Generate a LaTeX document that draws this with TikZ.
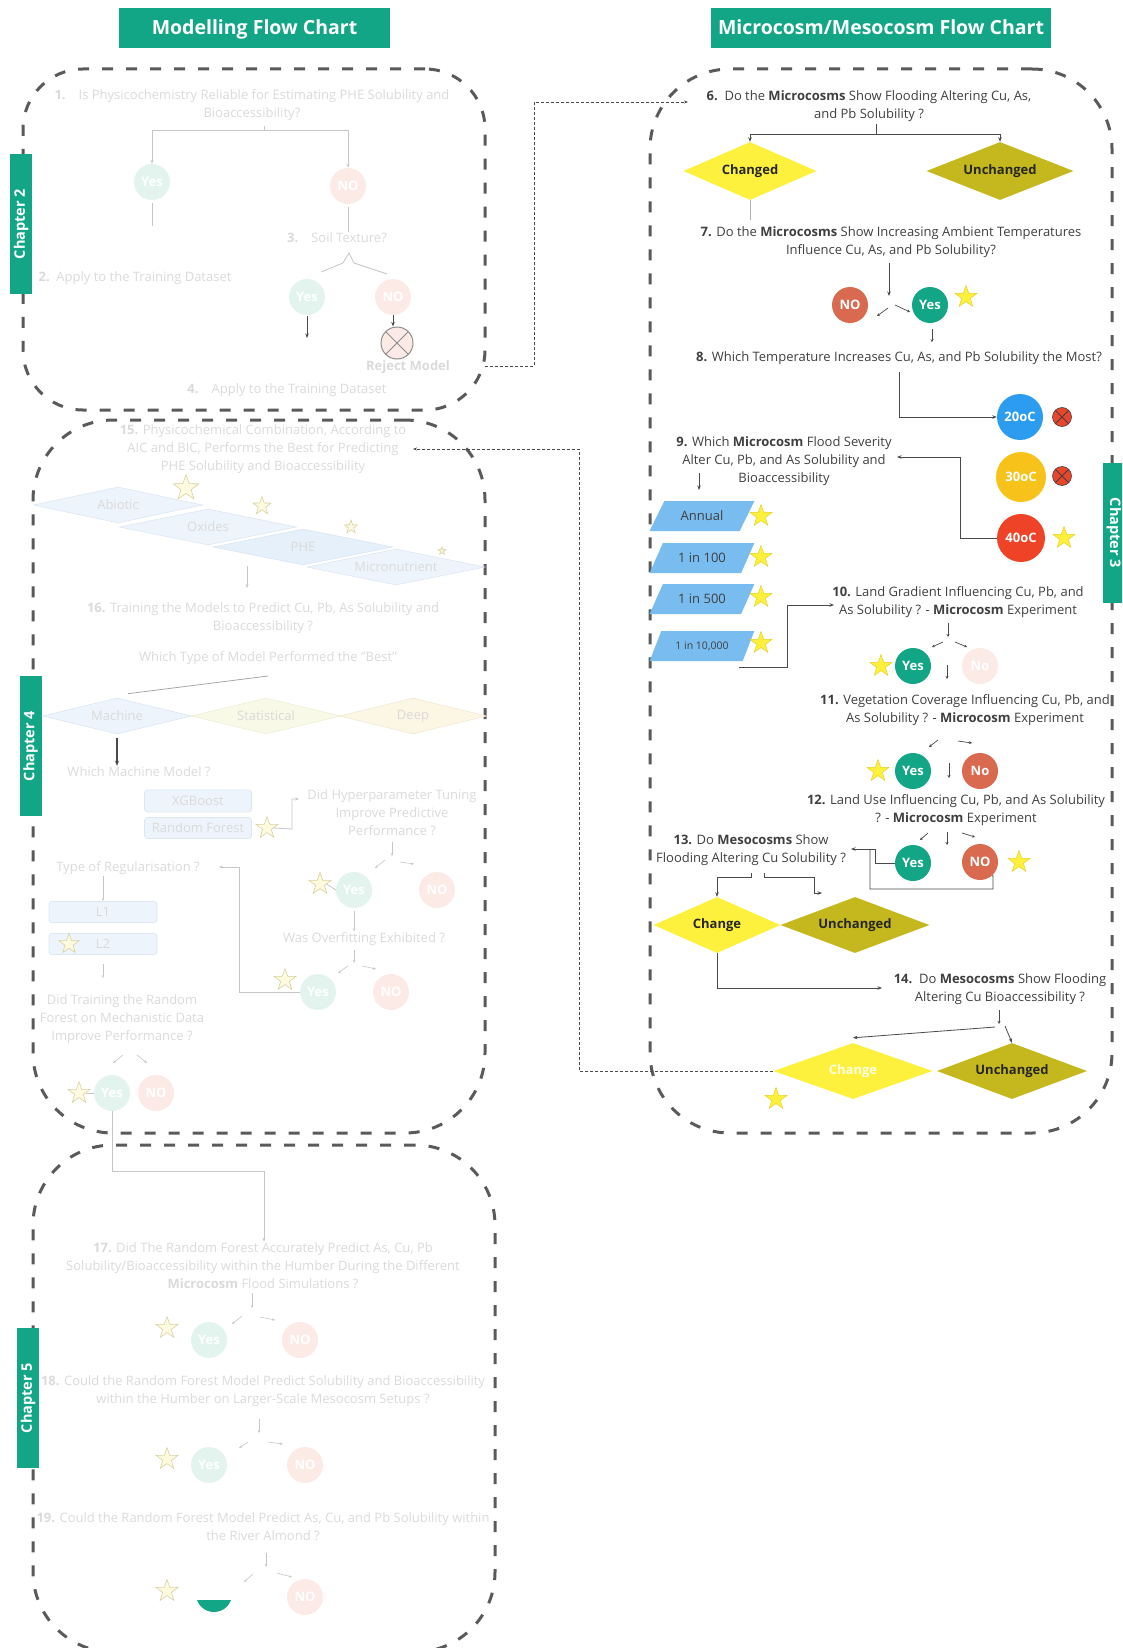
\documentclass[tikz,border=0pt]{standalone}
\usepackage{fontspec}
\setmainfont{Open Sans}
\usetikzlibrary{shapes.geometric,arrows.meta,calc}
\definecolor{tealc}{HTML}{12A586}
\definecolor{salm}{HTML}{D9694F}
\definecolor{yel}{HTML}{FDF13E}
\definecolor{oliv}{HTML}{C4B81E}
\definecolor{pblue}{HTML}{79BCF0}
\definecolor{cblue}{HTML}{2C9CF0}
\definecolor{camber}{HTML}{F7C31B}
\definecolor{cred}{HTML}{EE4327}
\definecolor{xred}{HTML}{E8452C}
\definecolor{styel}{HTML}{FFF03C}
\definecolor{stedge}{HTML}{E2D12A}
\definecolor{dgray}{HTML}{5A5A5A}
\definecolor{txtc}{HTML}{3F3F3F}
\definecolor{lnc}{HTML}{4A4A4A}
\definecolor{fadetx}{HTML}{DADADA}
\definecolor{fadeln}{HTML}{C6C6C6}
\definecolor{fyes}{HTML}{E3F4EF}
\definecolor{fno}{HTML}{FBEAE6}
\definecolor{fstarc}{HTML}{FDFAE0}
\definecolor{fstaredge}{HTML}{D9D1A2}
\definecolor{fblue}{HTML}{EEF4FB}
\definecolor{fblue2}{HTML}{E5F0FA}
\definecolor{fbluedge}{HTML}{DCE6F1}
\definecolor{fgreen}{HTML}{F8F9E7}
\definecolor{fgreenedge}{HTML}{ECEFD3}
\definecolor{fpeach}{HTML}{FCF6E5}
\definecolor{fpeachedge}{HTML}{F3E9CF}
\newcommand\myfs{\fontsize{13}{18}\selectfont}
\newcommand\myfsb{\fontsize{13}{15}\selectfont\bfseries}
\tikzset{
  dbox/.style={draw=dgray, line width=3pt, dash pattern=on 11pt off 13pt, rounded corners=#1, inner sep=0pt, outer sep=0pt},
  hdr/.style={fill=tealc, text=white, font=\fontsize{19.5}{21}\selectfont\bfseries, inner sep=0pt, text height=14pt, text depth=0pt},
  tabbox/.style={fill=tealc, text=white, font=\fontsize{14.5}{16}\selectfont\bfseries, minimum width=140pt, minimum height=22pt, inner sep=0pt},
  tx/.style={align=center, text=txtc, font=\myfs, inner sep=1pt},
  ftx/.style={align=center, text=fadetx, font=\myfs, inner sep=1pt},
  ln/.style={draw=lnc, line width=0.8pt},
  arr/.style={ln, -{Stealth[length=4.5pt,width=3.5pt]}},
  sarr/.style={draw=lnc, line width=0.7pt, -{Stealth[length=3pt,width=3pt]}},
  fln/.style={draw=fadeln, line width=0.8pt},
  farr/.style={fln, -{Stealth[length=4pt,width=3pt]}},
  fsarr/.style={draw=fadeln, line width=0.6pt, -{Stealth[length=3pt,width=2.5pt]}},
  dotarr/.style={draw=lnc, line width=0.8pt, dash pattern=on 3pt off 2pt, -{Stealth[length=4pt,width=3pt]}},
  yesc/.style={circle, fill=tealc, text=white, font=\myfsb, minimum size=36pt, inner sep=0pt},
  noc/.style={circle, fill=salm, text=white, font=\myfsb, minimum size=36pt, inner sep=0pt},
  fyesc/.style={circle, fill=fyes, text=white, font=\myfsb, minimum size=36pt, inner sep=0pt},
  fnoc/.style={circle, fill=fno, text=white, font=\myfsb, minimum size=36pt, inner sep=0pt},
  tempc/.style={circle, fill=#1, text=white, font=\fontsize{13}{15}\selectfont\bfseries, inner sep=0pt},
  xmark/.style={circle, fill=xred, draw=black!75, line width=0.6pt, minimum size=19pt, inner sep=0pt,
      path picture={\draw[black!75, line width=0.8pt] (path picture bounding box.south west)--(path picture bounding box.north east) (path picture bounding box.north west)--(path picture bounding box.south east);}},
  rejmark/.style={circle, fill=fno, draw=black!45, line width=1pt, minimum size=32pt, inner sep=0pt,
      path picture={\draw[black!45, line width=1pt] (path picture bounding box.south west)--(path picture bounding box.north east) (path picture bounding box.north west)--(path picture bounding box.south east);}},
  ystar/.style={star, star points=5, star point ratio=2.5, fill=styel, draw=stedge, line width=0.5pt, minimum size=#1, inner sep=0pt},
  fstar/.style={star, star points=5, star point ratio=2.5, fill=fstarc, draw=fstaredge, line width=0.6pt, minimum size=#1, inner sep=0pt},
  dia/.style={diamond, fill=#1, text=black!85, font=\myfsb, inner sep=0pt},
  para/.style={trapezium, trapezium left angle=50, trapezium right angle=130, trapezium stretches=true, fill=pblue, text=txtc, font=\myfs, minimum width=105pt, minimum height=30pt, inner sep=0pt},
  fdia/.style={diamond, fill=#1, line width=0.6pt, text=fadetx, font=\myfs, inner sep=0pt},
  fbox/.style={rectangle, rounded corners=3pt, fill=fblue, draw=fbluedge, line width=0.8pt, text=fadetx, font=\myfs, minimum width=107pt, minimum height=21pt, inner sep=0pt},
}
\begin{document}
\begin{tikzpicture}[x=1pt,y=-1pt]
\useasboundingbox (0,0) rectangle (1122,1648);
\clip (0,0) rectangle (1122,1648);

% ---------------- dashed chapter boxes ----------------
\node[dbox=60pt, minimum width=462pt, minimum height=341pt] (box2) at (254,239.5) {};
\node[dbox=80pt, minimum width=452pt, minimum height=713pt] (box4) at (259,776.5) {};
\node[dbox=80pt, minimum width=462pt, minimum height=507pt] (box5) at (264,1398.5) {};
\node[dbox=80pt, minimum width=462pt, minimum height=1064pt] (box3) at (881,601) {};

% ---------------- headers and tabs ----------------
\node[hdr, minimum width=271pt, minimum height=40pt] (h1) at (254.5,28) {Modelling Flow Chart};
\node[hdr, minimum width=340pt, minimum height=40pt] (h2) at (881,28) {Microcosm/Mesocosm Flow Chart};
\node[tabbox, rotate=90] (tab2) at (21,224) {Chapter 2};
\node[tabbox, rotate=90] (tab4) at (30.5,746) {Chapter 4};
\node[tabbox, rotate=90] (tab5) at (28,1398) {Chapter 5};
\node[tabbox, rotate=-90] (tab3) at (1114,533) {Chapter 3};

% ================= Chapter 2 (faded) =================
\node[ftx] (q1) at (252,105) {\textbf{1.}\quad Is Physicochemistry Reliable for Estimating PHE Solubility and\\Bioaccessibility?};
\node[fyesc] (yes1) at (152,182) {Yes};
\node[fnoc] (no1) at (348,186) {NO};
\coordinate (b1) at (264,126);
\coordinate (b1j) at (264,130);
\draw[fln] (b1) -- (b1j);
\draw[farr] (b1j) -| (yes1.north);
\draw[farr] (b1j) -| (no1.north);
\coordinate (e1) at (152,226);
\draw[fln] (yes1.south) ++(0,3) -- (e1);
\node[ftx] (q3) at (337,238) {\textbf{3.}\quad Soil Texture?};
\draw[fln] (no1.south) ++(0,3) -- (q3.north -| no1.south);
\draw[fln] (321,272) -- (343,263) -- (349,253) -- (354,263) -- (387,274);
\node[ftx] (q2) at (135,278) {\textbf{2.}\ \ Apply to the Training Dataset};
\node[fyesc] (yes3) at (307,297) {Yes};
\node[fnoc] (no3) at (393,297) {NO};
\coordinate (e3) at (307,338);
\draw[arr] (yes3.south) ++(0,1) -- (e3);
\node[rejmark] (rej) at (397,343) {};
\draw[arr] (no3.south) -- (rej.north -| no3.south);
\node[ftx, font=\myfs\bfseries] (rejt) at (408,367) {Reject Model};
\node[ftx] (q4) at (287,390) {\textbf{4.}\quad Apply to the Training Dataset};

% ================= Chapter 4 (faded) =================
\node[ftx] (q15) at (263,449) {\textbf{15.} Physicochemical Combination, According to\\AIC and BIC, Performs the Best for Predicting\\PHE Solubility and Bioaccessibility};
\node[fdia=fblue, draw=fbluedge, aspect=4.7, minimum width=169pt, minimum height=36pt] (abio) at (118,505) {Abiotic};
\node[fdia=fblue, draw=fbluedge, aspect=4.9, minimum width=177pt, minimum height=36pt] (oxid) at (208,527) {Oxides};
\node[fdia=fblue2, draw=fbluedge, aspect=5, minimum width=180pt, minimum height=36pt] (phe) at (303,547) {PHE};
\node[fdia=fblue, draw=fbluedge, aspect=4.9, minimum width=178pt, minimum height=36pt] (micro) at (396,567) {Micronutrient};
\node[fstar=27pt] (fs1) at (186,488) {};
\node[fstar=19pt] (fs2) at (262,506) {};
\node[fstar=14pt] (fs3) at (351,527) {};
\node[fstar=8pt] (fs4) at (442,551) {};
\coordinate (a15s) at (247,566);
\coordinate (a15e) at (247,588);
\draw[farr] (a15s) -- (a15e);
\node[ftx] (q16) at (263,618) {\textbf{16.} Training the Models to Predict Cu, Pb, As Solubility and\\Bioaccessibility ?};
\node[ftx] (q16b) at (268,658) {Which Type of Model Performed the "Best"};
\node[fdia=fblue, draw=fbluedge, aspect=4.1, minimum width=149pt, minimum height=36pt] (mach) at (117,716) {Machine};
\node[fdia=fgreen, draw=fgreenedge, aspect=4.1, minimum width=149pt, minimum height=36pt] (stat) at (266,716) {Statistical};
\node[fdia=fpeach, draw=fpeachedge, aspect=4.1, minimum width=147pt, minimum height=36pt] (deep) at (413,716) {Deep};
\coordinate (l16s) at (268,676);
\draw[draw=black!35, line width=0.8pt] (l16s) -- ($(mach.north)+(11,-4)$);
\node[ftx] (qwm) at (139,772) {Which Machine Model ?};
\draw[draw=lnc, line width=1.1pt, -{Stealth[length=5pt,width=4pt]}] (mach.south) ++(0,4) -- (qwm.north -| mach.south);
\node[fbox, minimum height=22pt] (xgb) at (198,801) {XGBoost};
\node[fbox] (rf) at (198,828) {Random Forest};
\node[fstar=23pt] (rfs) at (267,828) {};
\node[ftx] (qhp) at (392,813) {Did Hyperparameter Tuning\\Improve Predictive\\Performance ?};
\coordinate (chp) at (299,799);
\draw[farr] (rfs.east) -- (292,829) -- (292,799) -- (chp);
\coordinate (a1s) at (392,842);
\draw[fsarr] (a1s) -- ++(0,14);
\draw[fsarr] (385,860) -- (375,868);
\draw[fsarr] (400,862) -- (414,864);
\node[fyesc] (yesh) at (354,890) {Yes};
\node[fnoc] (noh) at (437,890) {NO};
\node[fstar=23pt] (fsh) at (320,884) {};
\draw[fln] (fsh.east) -- (yesh.west);
\node[ftx] (qof) at (364,939) {Was Overfitting Exhibited ?};
\draw[fsarr] (yesh.south) ++(0,3) -- (qof.north -| yesh.south);
\coordinate (a2s) at (354,950);
\draw[fsarr] (a2s) -- ++(0,13);
\draw[fsarr] (348,966) -- (338,973);
\draw[fsarr] (362,966) -- (376,969);
\node[fyesc] (yeso) at (318,992) {Yes};
\node[fnoc] (noo) at (391,992) {NO};
\node[fstar=23pt] (fso) at (285,980) {};
\node[ftx] (qreg) at (128,868) {Type of Regularisation ?};
\coordinate (creg) at (219,867);
\draw[farr] (yeso.west) -- (239,992) -- (239,867) -- (creg);
\node[fbox, minimum width=108pt] (l1) at (103,912) {L1};
\node[fbox, minimum width=108pt] (l2) at (103,944) {L2};
\node[fstar=21pt] (fsl2) at (69,944) {};
\draw[fsarr] (qreg.south -| l1.north) -- (l1.north);
\coordinate (l2e) at (103,978);
\draw[fsarr] (l2.south) ++(0,9) -- (l2e);
\node[ftx] (qrf) at (122,1019) {Did Training the Random\\Forest on Mechanistic Data\\Improve Performance ?};
\draw[fsarr] (123,1055) -- (113,1063);
\draw[fsarr] (137,1055) -- (147,1063);
\node[fyesc] (yesr) at (112,1093) {Yes};
\node[fnoc] (nor) at (156,1093) {NO};
\node[fstar=23pt] (fsr) at (79,1093) {};
\draw[fln] (fsr.east) -- (yesr.west);

% ================= Chapter 5 (faded) =================
\node[ftx] (q17) at (263,1266) {\textbf{17.} Did The Random Forest Accurately Predict As, Cu, Pb\\Solubility/Bioaccessibility within the Humber During the Different\\\textbf{Microcosm} Flood Simulations ?};
\draw[farr] (yesr.south) -- (112,1171) -| (q17.north -| 264,0);
\coordinate (a17) at (252,1293);
\draw[fsarr] (a17) -- ++(0,15);
\draw[fsarr] (242,1316) -- (232,1324);
\draw[fsarr] (260,1317) -- (275,1320);
\node[fyesc] (yes17) at (209,1340) {Yes};
\node[fnoc] (no17) at (300,1340) {NO};
\node[fstar=23pt] (fs17) at (167,1328) {};
\node[ftx] (q18) at (263,1391) {\textbf{18.} Could the Random Forest Model Predict Solubility and Bioaccessibility\\within the Humber on Larger-Scale Mesocosm Setups ?};
\coordinate (a18) at (259,1419);
\draw[fsarr] (a18) -- ++(0,14);
\draw[fsarr] (248,1442) -- (239,1448);
\draw[fsarr] (268,1442) -- (283,1444);
\node[fyesc] (yes18) at (209,1465) {Yes};
\node[fnoc] (no18) at (305,1465) {NO};
\node[fstar=23pt] (fs18) at (167,1459) {};
\node[ftx] (q19) at (263,1527) {\textbf{19.} Could the Random Forest Model Predict As, Cu, and Pb Solubility within\\the River Almond ?};
\coordinate (a19) at (266,1553);
\draw[fsarr] (a19) -- ++(0,14);
\draw[fsarr] (253,1574) -- (244,1582);
\draw[fsarr] (277,1573) -- (292,1577);
\begin{scope}
\clip (180,1600) rectangle (250,1630);
\node[yesc] (yes19) at (214,1594) {};
\end{scope}
\node[fnoc] (no19) at (305,1597) {NO};
\node[fstar=23pt] (fs19) at (167,1591) {};

% ================= Chapter 3 (right) =================
\node[tx] (q6) at (869,106) {\textbf{6.}\ \ Do the \textbf{Microcosms} Show Flooding Altering Cu, As,\\and Pb Solubility ?};
\node[dia=yel, aspect=2.3, minimum width=133pt, minimum height=58pt] (chg) at (750,171) {Changed};
\node[dia=oliv, aspect=2.5, minimum width=147pt, minimum height=58pt] (unch) at (1000,171) {Unchanged};
\coordinate (b6) at (876,124);
\coordinate (b6j) at (876,134);
\draw[ln] (b6) -- (b6j);
\draw[arr] (b6j) -| (chg.north);
\draw[arr] (b6j) -| (unch.north);
\coordinate (c7) at (750,220);
\draw[draw=black!30, line width=0.8pt] (chg.south) -- (c7);
\node[tx] (q7) at (891,242) {\textbf{7.} Do the \textbf{Microcosms} Show Increasing Ambient Temperatures\\Influence Cu, As, and Pb Solubility?};
\node[noc] (no7) at (850,305) {NO};
\node[yesc] (yes7) at (930,305) {Yes};
\node[ystar=23pt] (s7) at (966,297) {};
\coordinate (a7) at (889,263);
\draw[arr] (a7) -- ++(0,33);
\draw[sarr] (888,308) -- (877,316);
\draw[sarr] (895,305) -- (910,312);
\node[tx] (q8) at (899,358) {\textbf{8.} Which Temperature Increases Cu, As, and Pb Solubility the Most?};
\draw[sarr] (yes7.south) ++(2,6) -- ++(0,13);
\node[tempc=cblue, minimum size=46pt] (t20) at (1020,417) {20oC};
\node[xmark] (x20) at (1062,417) {};
\node[tempc=camber, minimum size=50pt] (t30) at (1021,477) {30oC};
\node[xmark] (x30) at (1062,476) {};
\node[tempc=cred, minimum size=48pt] (t40) at (1021,538) {40oC};
\node[ystar=23pt] (s40) at (1064,538) {};
\coordinate (c8) at (899,372);
\draw[arr] (c8) |- (t20.west);
\node[tx] (q9) at (784,461) {\textbf{9.} Which \textbf{Microcosm} Flood Severity\\Alter Cu, Pb, and As Solubility and\\Bioaccessibility};
\coordinate (c9) at (897,457);
\draw[arr] (t40.west) -- (960,538) -- (960,457) -- (c9);
\coordinate (a9) at (699,473);
\draw[arr] (a9) -- ++(0,17);
\node[para] (p1) at (702,516) {Annual};
\node[para] (p2) at (702,558) {1 in 100};
\node[para] (p3) at (702,599) {1 in 500};
\node[para, font=\fontsize{10.5}{12}\selectfont] (p4) at (702,646) {1 in 10,000};
\node[ystar=23pt] (sp1) at (761,516) {};
\node[ystar=23pt] (sp2) at (761,557) {};
\node[ystar=23pt] (sp3) at (761,597) {};
\node[ystar=23pt] (sp4) at (761,643) {};
\node[tx] (q10) at (958,602) {\textbf{10.} Land Gradient Influencing Cu, Pb, and\\As Solubility ? - \textbf{Microcosm} Experiment};
\coordinate (c10s) at (739,667);
\coordinate (c10e) at (834,605);
\draw[arr] (c10s) -- (787,667) -- (787,605) -- (c10e);
\coordinate (a10) at (948,623);
\draw[sarr] (a10) -- ++(0,14);
\draw[sarr] (943,642) -- (932,647);
\draw[sarr] (955,642) -- (967,647);
\node[yesc] (yes10) at (913,666) {Yes};
\node[fnoc] (no10) at (980,666) {No};
\node[ystar=23pt] (s10) at (881,666) {};
\draw[sarr] (947,665) -- (947,679);
\node[tx] (q11) at (965,710) {\textbf{11.} Vegetation Coverage Influencing Cu, Pb, and\\As Solubility ? - \textbf{Microcosm} Experiment};
\draw[sarr] (938,740) -- (929,747);
\draw[sarr] (958,741) -- (972,743);
\node[yesc] (yes11) at (913,771) {Yes};
\node[noc] (no11) at (980,771) {No};
\node[ystar=23pt] (s11) at (878,771) {};
\draw[sarr] (949,763) -- (949,778);
\node[tx] (q12) at (956,810) {\textbf{12.} Land Use Influencing Cu, Pb, and As Solubility\\? - \textbf{Microcosm} Experiment};
\draw[sarr] (928,833) -- (920,840);
\draw[sarr] (947,832) -- (947,845);
\draw[sarr] (962,833) -- (975,837);
\node[yesc] (yes12) at (913,863) {Yes};
\node[noc] (no12) at (980,862) {NO};
\node[ystar=23pt] (s12) at (1019,862) {};
\node[tx] (q13) at (751,850) {\textbf{13.} Do \textbf{Mesocosms} Show\\Flooding Altering Cu Solubility ?};
\coordinate (c13) at (851,849);
\draw[arr] (yes12.west) -- (875,863) -- (875,849) -- (c13);
\draw[ln] (no12.south east) -- (993,889) -- (870,889) -- (870,849);
\node[dia=yel, aspect=2.27, minimum width=127pt, minimum height=56pt] (chg13) at (717,925) {Change};
\node[dia=oliv, aspect=2.66, minimum width=149pt, minimum height=56pt] (unch13) at (855,925) {Unchanged};
\coordinate (b13l) at (751,873);
\coordinate (b13r) at (764,873);
\coordinate (b13re) at (822,893);
\draw[arr] (b13l) -- (751,877) -| (chg13.north);
\draw[arr] (b13r) -- (764,877) -- (814,877) -- (814,893) -- (b13re);
\node[tx] (q14) at (1000,989) {\textbf{14.}\ \ Do \textbf{Mesocosms} Show Flooding\\Altering Cu Bioaccessibility ?};
\coordinate (c14) at (882,988);
\draw[arr] (chg13.south) |- (c14);
\node[dia=yel, aspect=2.84, minimum width=159pt, minimum height=56pt, text=white!85!yel] (chg14) at (853,1071) {Change};
\node[dia=oliv, aspect=2.68, minimum width=150pt, minimum height=56pt] (unch14) at (1012,1071) {Unchanged};
\node[ystar=23pt] (s14) at (776,1099) {};
\coordinate (b14) at (999,1010);
\draw[sarr] (b14) -- ++(0,14);
\draw[arr] (995,1027) -- ($(chg14.north)+(0,-5)$);
\draw[arr] (1005,1026) -- (unch14.north);

% ---------------- dotted cross links ----------------
\coordinate (d1s) at (485,366);
\coordinate (d1e) at (688,102);
\draw[dotarr] (d1s) -- (534,366) -- (534,102) -- (d1e);
\coordinate (d2e) at (413,449);
\draw[dotarr] (chg14.west) -- (579,1071) -- (579,449) -- (d2e);
\end{tikzpicture}
\end{document}
